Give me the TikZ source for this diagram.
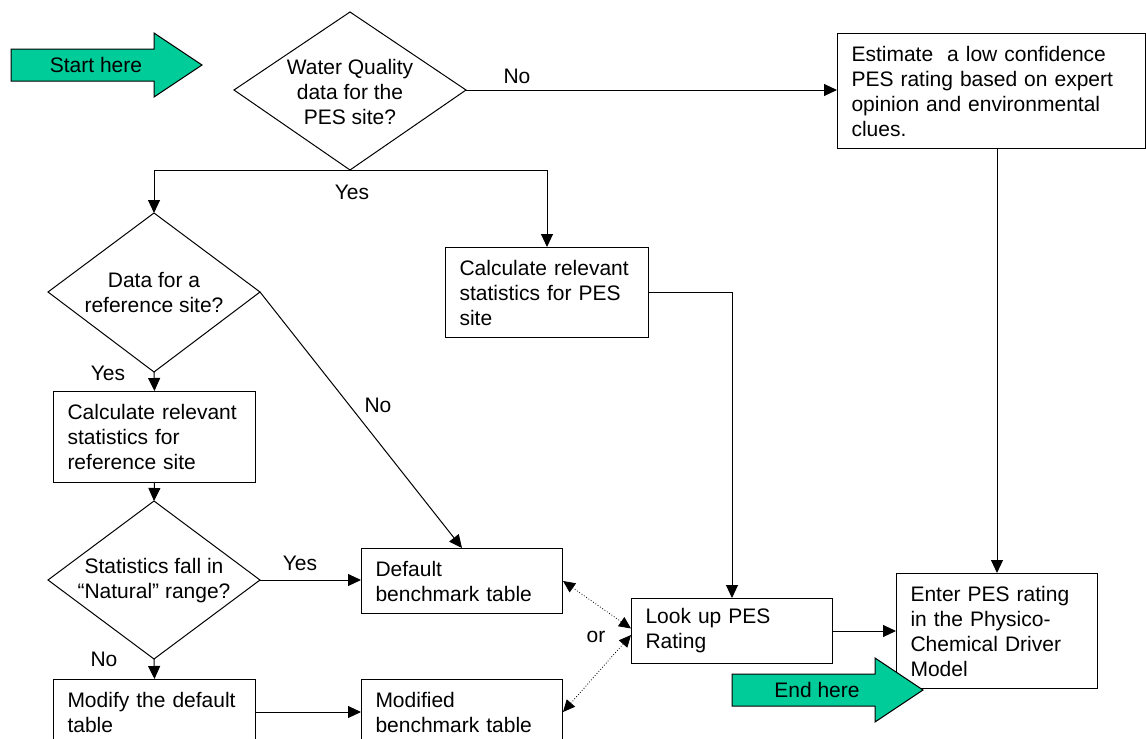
\documentclass[tikz,border=0pt]{standalone}
\usepackage{fontspec}
\setmainfont{Liberation Sans}
\usetikzlibrary{arrows.meta,calc}
\definecolor{arrowgreen}{RGB}{0,204,153}

\begin{document}
\begin{tikzpicture}[x=1pt,y=-1pt,line width=1pt,
  every node/.style={font=\fontsize{21}{25}\selectfont, inner sep=0pt},
  stepbox/.style={draw, rectangle, inner xsep=14pt, inner ysep=0pt,
                  align=left, anchor=north west},
  flow/.style={-{Triangle[length=13pt,width=12pt]}},
  alt/.style={dotted, line width=0.8pt,
              {Triangle[length=12pt,width=11pt]}-{Triangle[length=12pt,width=11pt]}},
  lbl/.style={},
  bigarrow/.style={draw, fill=arrowgreen, line width=1pt}]

\useasboundingbox (0,0) rectangle (1146,739);

% start marker
\draw[bigarrow] (11,49) -- (154,49) -- (154,33) -- (202,65) -- (154,97) -- (154,81) -- (11,81) -- cycle;
\node (start) at (96,65) {Start here};

% decision: water quality data?
\coordinate (d1n) at (350,12);
\coordinate (d1w) at (234,90);
\coordinate (d1e) at (466,90);
\coordinate (d1s) at (350,170);
\draw (d1n) -- (d1e) -- (d1s) -- (d1w) -- cycle;
\node[align=center] (q1) at (350,92) {Water Quality\\data for the\\PES site?};

% decision: reference site data?
\coordinate (d2n) at (154,213);
\coordinate (d2w) at (48,292);
\coordinate (d2e) at (260,292);
\coordinate (d2s) at (154,372);
\draw (d2n) -- (d2e) -- (d2s) -- (d2w) -- cycle;
\node[align=center] (q2) at (154,293) {Data for a\\reference site?};

% decision: natural range?
\coordinate (d3n) at (154,501);
\coordinate (d3w) at (48,580);
\coordinate (d3e) at (260,580);
\coordinate (d3s) at (154,659);
\draw (d3n) -- (d3e) -- (d3s) -- (d3w) -- cycle;
\node[align=center] (q3) at (154,581) {Statistics fall in\\“Natural” range?};

% process boxes
\node[stepbox, minimum height=115pt, text width=280pt] (est) at (837,33)
  {Estimate~ a low confidence\\PES rating based on expert\\opinion and environmental\\clues.};
\node[stepbox, minimum height=90pt, text width=175pt] (calcpes) at (445,247)
  {Calculate relevant\\statistics for PES\\site};
\node[stepbox, minimum height=91pt, text width=174pt] (calcref) at (53,391)
  {Calculate relevant\\statistics for\\reference site};
\node[stepbox, minimum height=65pt, text width=173pt] (default) at (361,548)
  {Default\\benchmark table};
\node[stepbox, minimum height=65pt, text width=174pt] (modify) at (53,679)
  {Modify the default\\table};
\node[stepbox, minimum height=65pt, text width=173pt] (modified) at (361,679)
  {Modified\\benchmark table};
\node[stepbox, minimum height=65pt, text width=173pt] (look) at (631,598)
  {Look up PES\\Rating};
\node[stepbox, minimum height=115pt, text width=173pt] (enter) at (896,573)
  {Enter PES rating\\in the Physico-\\Chemical Driver\\Model};

% connectors
\draw[flow] (d1e) -- (d1e -| est.west);
\draw[flow] (d1s) -- (d2n |- d1s) -- (d2n);
\draw[flow] (d1s) -- (calcpes.north |- d1s) -- (calcpes.north);
\draw[flow] (d2s) -- (calcref.north);
\draw[flow] (d2e) -- (default.north);
\draw[flow] (calcref.south) -- (d3n);
\draw[flow] (d3e) -- (d3e -| default.west);
\draw[flow] (d3s) -- (modify.north);
\draw[flow] (modify.east) -- (modified.west);
\draw[flow] (calcpes.east) -- (look.north |- calcpes.east) -- (look.north);
\draw[flow] (look.east) -- (enter.west);
\draw[flow] (enter.north |- est.south) -- (enter.north);
\draw[alt] ($(look.west)+(0,-2.5)$) -- (default.east);
\draw[alt] ($(look.west)+(0,4)$) -- (modified.east);

% branch labels
\node[lbl] (no1) at (517,76) {No};
\node[lbl] (yes1) at (352,192) {Yes};
\node[lbl] (yes2) at (108,373) {Yes};
\node[lbl] (no2) at (378,405) {No};
\node[lbl] (yes3) at (300,563) {Yes};
\node[lbl] (no3) at (104,659) {No};
\node[lbl] (or) at (596,637) {or};

% end marker
\draw[bigarrow] (732,674) -- (875,674) -- (875,658) -- (923,690) -- (875,722) -- (875,706) -- (732,706) -- cycle;
\node (finish) at (817,690) {End here};

\end{tikzpicture}
\end{document}
